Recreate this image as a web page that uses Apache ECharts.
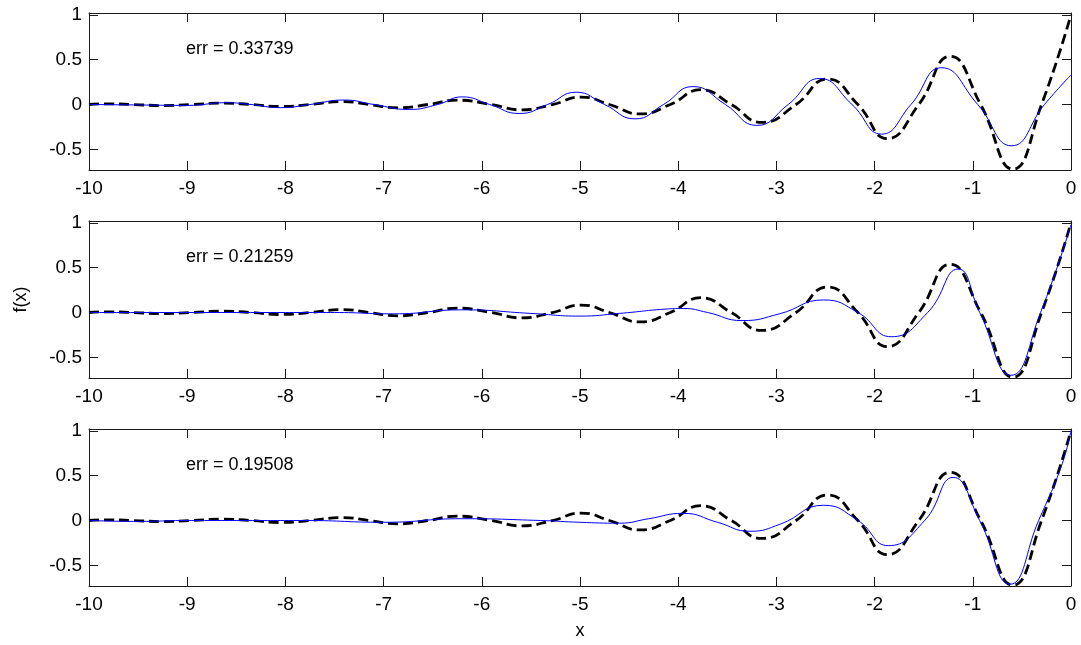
<!DOCTYPE html>
<html>
<head>
    <meta charset="UTF-8">
    <title>f(x)</title>
    <style>
        html, body { margin: 0; padding: 0; background: #fff; }
        #main { width: 1081px; height: 645px; }
    </style>
</head>
<body>
<div id="main"></div>
<script src="https://cdn.jsdelivr.net/npm/echarts@6/dist/echarts.min.js"></script>
<script>
    // 真函数 (黑色虚线)，三幅图共用
    var trueX = [-10, -9.85, -9.55, -9.25, -8.95, -8.65, -8.35, -8.05, -7.75, -7.42, -7.15, -6.85, -6.55, -6.25,
        -5.9, -5.6, -5.28, -4.99, -4.7, -4.39, -4.08, -3.77, -3.46, -3.15, -2.8, -2.48, -2.17, -1.87,
        -1.55, -1.23, -0.92, -0.59, -0.3, 0];
    var trueY = [0, 0.008, 0, -0.012, 0, 0.016, 0, -0.022, 0, 0.032, 0, -0.037, 0, 0.048,
        0, -0.06, 0, 0.083, 0, -0.105, 0, 0.165, 0, -0.2, 0, 0.285, 0, -0.38,
        0, 0.537, 0, -0.72, 0, 1.0];

    // 拟合结果 (蓝线)
    var fit1X = [-10, -9.5, -9.0, -8.6, -8.35, -8.05, -7.75, -7.4, -7.1, -6.74, -6.45, -6.2, -5.92, -5.62,
        -5.33, -5.04, -4.75, -4.44, -4.15, -3.85, -3.52, -3.2, -2.88, -2.56, -2.23, -1.93, -1.63,
        -1.32, -0.95, -0.605, -0.27, 0];
    var fit1Y = [0, -0.005, -0.01, 0.02, 0, -0.035, 0, 0.05, 0, -0.055, 0, 0.085, 0, -0.1,
        0, 0.137, 0, -0.16, 0, 0.2, 0, -0.233, 0, 0.29, 0, -0.33, 0,
        0.41, 0, -0.46, 0, 0.33];

    var fit2X = [-10, -9, -8, -7.5, -6.9, -6.2, -5.5, -5.0, -4.6, -4.1, -3.95, -3.7, -3.35, -2.97,
        -2.52, -2.17, -1.83, -1.46, -1.15, -0.93, -0.61, -0.31, 0];
    var fit2Y = [0, 0, 0, 0, -0.015, 0.03, -0.01, -0.04, -0.01, 0.04, 0.045, 0.0, -0.09, -0.015,
        0.14, 0, -0.27, 0, 0.485, 0, -0.70, 0, 0.98];

    var fit3X = [-10, -9.5, -9, -8.5, -7.8, -7.0, -6.2, -5.4, -5.0, -4.6, -4.3, -3.95, -3.6, -3.27,
        -2.96, -2.52, -2.17, -1.86, -1.49, -1.2, -0.93, -0.62, -0.33, -0.1, 0];
    var fit3Y = [0, -0.01, 0, 0, 0, -0.02, 0.02, 0, -0.02, -0.03, 0.02, 0.08, -0.02, -0.12,
        -0.04, 0.17, 0, -0.28, 0, 0.48, 0, -0.71, 0, 0.6, 1.0];

    var errLabels = ['err = 0.33739', 'err = 0.21259', 'err = 0.19508'];

    var xMin = -10, xMax = 0;
    var yMin = -0.73, yMax = 1.02;

    function zip(xs, ys) {
        var out = [];
        for (var i = 0; i < xs.length; i++) out.push([xs[i], ys[i]]);
        return out;
    }

    var fits = [zip(fit1X, fit1Y), zip(fit2X, fit2Y), zip(fit3X, fit3Y)];
    var trueData = zip(trueX, trueY);

    var font = "'Liberation Sans', Arial, sans-serif";
    var gridTops = [13, 221, 429];
    var errTops = [40, 248, 456];
    var axisColor = '#1a1a1a';

    var grids = [], xAxes = [], yAxes = [], series = [], titles = [];

    gridTops.forEach(function (top, i) {
        grids.push({ left: 89, right: 10, top: top, height: 157 });

        var xBase = {
            gridIndex: i, type: 'value', min: xMin, max: xMax, interval: 1,
            axisLine: { onZero: false, lineStyle: { color: axisColor, width: 1 } },
            axisTick: { inside: true, length: 9, lineStyle: { color: axisColor } },
            splitLine: { show: false }
        };
        xAxes.push(Object.assign({}, xBase, {
            position: 'bottom',
            axisLabel: { fontSize: 19, color: '#000', margin: 9, fontFamily: font },
            name: i === 2 ? 'x' : '',
            nameLocation: 'middle', nameGap: 36,
            nameTextStyle: { fontSize: 18, color: '#000', fontFamily: font }
        }));
        xAxes.push(Object.assign({}, xBase, { position: 'top', axisLabel: { show: false } }));

        var yBase = {
            gridIndex: i, type: 'value', min: yMin, max: yMax, splitNumber: 3,
            axisLine: { onZero: false, lineStyle: { color: axisColor, width: 1 } },
            axisTick: { inside: true, length: 9, lineStyle: { color: axisColor } },
            splitLine: { show: false }
        };
        yAxes.push(Object.assign({}, yBase, {
            position: 'left',
            axisLabel: {
                fontSize: 19, color: '#000', margin: 7, fontFamily: font,
                formatter: function (v) {
                    return Math.abs(v * 2 - Math.round(v * 2)) < 1e-6 ? String(Math.round(v * 2) / 2) : '';
                }
            },
            name: i === 1 ? 'f(x)' : '',
            nameLocation: 'middle', nameGap: 59,
            nameTextStyle: { fontSize: 18, color: '#000', fontFamily: font }
        }));
        yAxes.push(Object.assign({}, yBase, { position: 'right', axisLabel: { show: false } }));

        series.push({
            type: 'line', xAxisIndex: 2 * i, yAxisIndex: 2 * i,
            data: trueData, smooth: 0.5, showSymbol: false,
            lineStyle: { color: '#000', width: 2.8, type: [10, 5] }, z: 2
        });
        series.push({
            type: 'line', xAxisIndex: 2 * i, yAxisIndex: 2 * i,
            data: fits[i], smooth: 0.5, showSymbol: false,
            lineStyle: { color: '#0000ff', width: 1 }, z: 3
        });

        titles.push({
            text: errLabels[i], left: 186, top: errTops[i], padding: 0,
            textStyle: { fontSize: 18, fontWeight: 'normal', color: '#000', fontFamily: font }
        });
    });

    var myChart = echarts.init(document.getElementById('main'));
    myChart.setOption({
        backgroundColor: '#fff',
        animation: false,
        textStyle: { fontFamily: font },
        title: titles,
        grid: grids,
        xAxis: xAxes,
        yAxis: yAxes,
        series: series
    });
</script>
</body>
</html>
